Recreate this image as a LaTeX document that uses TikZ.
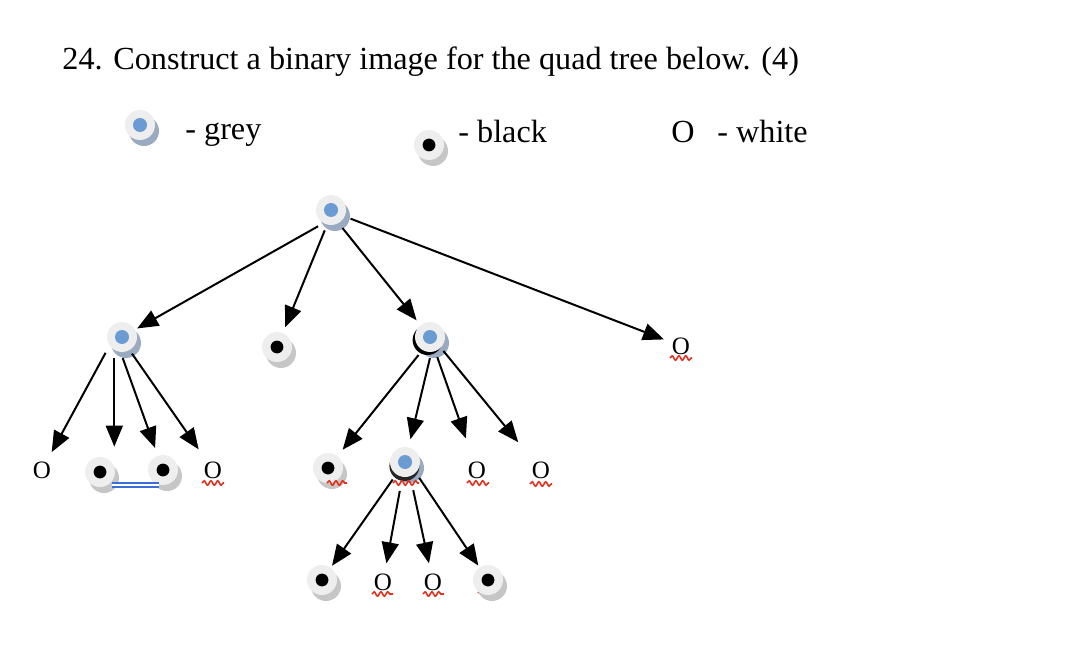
\documentclass[tikz,border=0pt]{standalone}
\usepackage{fontspec}
\setmainfont{Liberation Serif}
\usetikzlibrary{arrows.meta,decorations.pathmorphing,calc,shadows}
\definecolor{disc}{HTML}{EEEEEE}
\definecolor{shgrey}{HTML}{C6C6C6}
\definecolor{shblue}{HTML}{9AAAC0}
\definecolor{dotblue}{HTML}{6A9BD2}
\definecolor{wavered}{HTML}{E0301E}
\definecolor{lineblue}{HTML}{3B6FD6}
\pgfdeclarelayer{bg}
\pgfsetlayers{bg,main}
\begin{document}
\begin{tikzpicture}[x=0.5pt,y=-0.5pt,
  txt/.style={inner sep=0pt, font=\fontsize{16.1}{19}\selectfont},
  onode/.style={inner sep=1pt, font=\fontsize{12.5}{15}\selectfont},
  base/.style={circle, inner sep=0pt, minimum size=15pt, fill=disc},
  blacknode/.style={base, general shadow={fill=shgrey, shadow xshift=2pt, shadow yshift=-3pt},
    path picture={\fill[black] (path picture bounding box.center) circle (3.2pt);}},
  greynode/.style={base, general shadow={fill=shblue, shadow xshift=2pt, shadow yshift=-3pt},
    path picture={\fill[dotblue] (path picture bounding box.center) circle (3.5pt);}},
  arr/.style={-{Triangle[length=10.5pt,width=8.5pt]}, line width=1pt},
  wave/.style={draw=wavered, line width=0.8pt, decorate,
    decoration={snake, segment length=3.4pt, amplitude=1.1pt}},
  dbl/.style={draw=lineblue, double, double distance=1.2pt, line width=0.8pt}
]
\useasboundingbox (0,0) rectangle (1074,646);

% title
\node[txt, anchor=base west] (t1) at (62,70) {24.};
\node[txt, anchor=base west] (t2) at (113,70) {Construct a binary image for the quad tree below. (4)};

% legend
\node[greynode] (lg) at (140,125) {};
\node[txt, anchor=base west] (lgt) at (185,140) {- grey};
\node[blacknode] (lb) at (429,145) {};
\node[txt, anchor=base west] (lbt) at (458,143) {- black};
\node[txt, anchor=base west] (lw) at (671,143) {O};
\node[txt, anchor=base west] (lwt) at (717,143) {- white};

% tree nodes
\node[greynode] (R) at (331,210) {};
\node[greynode] (A) at (122,337) {};
\node[blacknode] (B) at (277,347) {};
\node[base, general shadow={fill=shblue, shadow xshift=2pt, shadow yshift=-3pt},
  general shadow={fill=black, shadow xshift=-1.2pt, shadow yshift=-1.5pt},
  path picture={\fill[dotblue] (path picture bounding box.center) circle (3.5pt);}] (C) at (430,337) {};
\node[onode] (D) at (681,346) {O};

\node[onode] (A1) at (42,470) {O};
\node[blacknode] (A2) at (100,472) {};
\node[blacknode] (A3) at (163,470) {};
\node[onode] (A4) at (213,470) {O};

\node[blacknode] (C1) at (328,468) {};
\node[base, general shadow={fill=shblue, shadow xshift=2pt, shadow yshift=-3pt},
  general shadow={fill=black!85, shadow xshift=-0.3pt, shadow yshift=-2pt},
  path picture={\fill[dotblue] (path picture bounding box.center) circle (3.5pt);}] (C2) at (405,462) {};
\node[onode] (C3) at (477,470) {O};
\node[onode] (C4) at (541,470) {O};

\node[blacknode] (E1) at (322,580) {};
\node[onode] (E2) at (383,582) {O};
\node[onode] (E3) at (433,582) {O};
\node[blacknode] (E4) at (488,580) {};

% connectors
\draw[arr, shorten <=3pt, shorten >=1pt] (R.240) -- (A);
\draw[arr, shorten <=3pt, shorten >=3pt] (R.255) -- (B);
\draw[arr, shorten <=3pt, shorten >=3pt] (R.300) -- (C);
\draw[arr, shorten <=3pt, shorten >=3pt] (R.335) -- (D);

\draw[arr, shorten <=4pt, shorten >=4pt] (A.215) -- (A1);
\draw[arr, shorten <=4pt, shorten >=5pt] (A.240) -- (A.240 |- A2.north);
\draw[arr, shorten <=3pt, shorten >=4pt] (A.265) -- (A3);
\draw[arr, shorten <=2pt, shorten >=6pt] (A.300) -- (A4);

\draw[arr, shorten <=3pt, shorten >=4pt] (C.240) -- (C1);
\draw[arr, shorten <=3pt, shorten >=4pt] (C.275) -- (C2);
\draw[arr, shorten <=3pt, shorten >=11pt] (C.290) -- (C3);
\draw[arr, shorten <=2pt, shorten >=11pt] (C.315) -- (C4);

\draw[arr, shorten <=3pt, shorten >=1pt] (C2.235) -- (E1);
\draw[arr, shorten <=7pt, shorten >=4pt] (C2.260) -- (E2);
\draw[arr, shorten <=7pt, shorten >=4pt] (C2.290) -- (E3);
\draw[arr, shorten <=3pt, shorten >=1pt] (C2.315) -- (E4);

% blue double line
\draw[dbl] ($(A2)+(12,13)$) -- ($(A3)+(-4,15)$);

% squiggles
\draw[wave] ($(D)+(-11,12)$) -- ++(22,0);
\draw[wave] ($(A4)+(-11,13)$) -- ++(22,0);
\draw[wave] ($(C3)+(-10,13)$) -- ++(22,0);
\draw[wave] ($(C4)+(-11,14)$) -- ++(22,0);
\draw[wave] ($(E2)+(-11,12)$) -- ++(21,0);
\draw[wave] ($(E3)+(-10,12)$) -- ++(21,0);
\draw[wave] ($(C1)+(-1,15)$) -- ++(20,0);
\draw[wave] ($(C2)+(-12,21)$) -- ++(26,0);
\begin{pgfonlayer}{bg}
\draw[wave] ($(A3)+(-7,14)$) -- ++(20,0);
\draw[wave] ($(A2)+(6,12)$) -- ++(10,0);
\draw[wave] ($(E4)+(-10,13)$) -- ++(20,0);
\end{pgfonlayer}
\end{tikzpicture}
\end{document}
